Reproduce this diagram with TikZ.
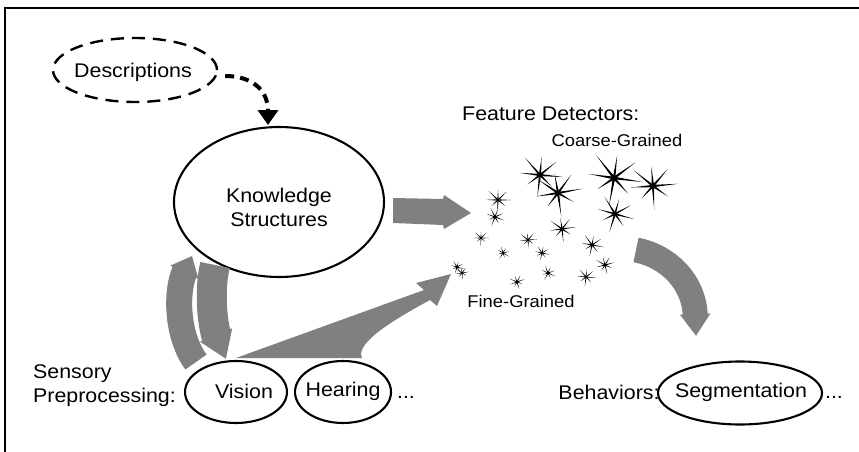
\documentclass[tikz,border=0pt]{standalone}
\usepackage{fontspec}
\setmainfont{Liberation Sans}[FakeStretch=1.08]
\usetikzlibrary{arrows.meta,shapes.geometric,calc}
\definecolor{flowgrey}{RGB}{128,128,128}
\tikzset{
  oval/.style={ellipse, draw, line width=2.1pt, inner sep=0pt},
  dashoval/.style={oval, line width=2.4pt, dash pattern=on 13pt off 8pt},
  big/.style={font=\fontsize{19.8}{23}\selectfont, inner sep=0pt},
  small/.style={font=\fontsize{17}{20}\selectfont, inner sep=0pt},
  band/.style={draw=flowgrey, line width=#1},
  wedge/.style={fill=flowgrey},
}
% a feature detector: eight tapered rays around (x,y), radius, turn
\newcommand\burst[4]{%
  \pgfmathsetmacro\bw{0.18+0.04*#3}%
  \foreach \a/\f in {0/1,40/0.72,92/0.95,138/0.68,181/0.88,224/1,270/0.78,316/0.9}{%
    \fill ($(#1,#2)+(#4+\a+90:\bw)$) -- ($(#1,#2)+(#4+\a:#3*\f)$) -- ($(#1,#2)+(#4+\a-90:\bw)$) -- cycle;
  }}

\begin{document}
\begin{tikzpicture}[x=1pt,y=-1pt]
\useasboundingbox (0,0) rectangle (859,452);
\draw[line width=2.2pt] (859,8) -- (5,8) -- (5,452);

% nodes
\node[dashoval, minimum width=164pt, minimum height=64pt] (desc) at (135,70) {};
\node[big] (desct) at (133,72) {Descriptions};
\node[oval, minimum width=210pt, minimum height=150pt] (know) at (279,202) {};
\node[big, align=center] (knowt) at (279,207) {Knowledge\\[1pt]Structures};

\node[big, anchor=west, align=left] (sens) at (33,386) {Sensory\\[1pt]Preprocessing:};
\node[oval, minimum width=102pt, minimum height=62pt] (vis) at (236,392) {};
\node[big] (vist) at (244,391) {Vision};
\node[oval, minimum width=96pt, minimum height=62pt] (hear) at (343,392) {};
\node[big] (heart) at (343,391) {Hearing};
\node[big, anchor=base] (more1) at (406,398) {...};

\node[big] (beh) at (609,392) {Behaviors:};
\node[oval, minimum width=164pt, minimum height=63pt] (seg) at (740,393) {};
\node[big] (segt) at (741,392) {Segmentation};
\node[big, anchor=base] (more2) at (834,398) {...};

\node[big, anchor=west] (fd) at (462,114) {Feature Detectors:};
\node[small] (coarse) at (617,140) {Coarse-Grained};
\node[small] (fine) at (521,301) {Fine-Grained};

% dashed arrow from descriptions into knowledge
\coordinate (kin) at (268,125);
\draw[line width=4pt, dash pattern=on 9pt off 6pt, -{Triangle[length=15pt,width=20pt]}]
  ($(desc.east)+(7,6)$) .. controls (252,76) and (268,90) .. (kin);

% grey block arrow knowledge -> detectors
\fill[wedge] ($(know.east)+(8,-4)$) -- (443,199) -- (444,195) -- (471,213) -- (444,229) -- (443,225) -- ($(know.east)+(8,21)$) -- cycle;

% loop between vision and knowledge
\draw[band=26pt, -{Triangle[length=18pt,width=30pt]}]
  (196,362) .. controls (176,335) and (176,290) .. (192,256);
\draw[band=30pt, -{Triangle[length=26pt,width=33pt]}]
  (215,265) .. controls (208,295) and (214,330) .. (226,359);

% wide wedge vision -> fine detectors
\coordinate (fin) at (451,274);
\fill[wedge] (236,358) -- (362,358) .. controls (356,345) and (382,326) .. (430,300)
  -- (437,306) -- (fin) -- (416,283) -- (424,290) -- cycle;

% detectors -> behaviors
\draw[band=25pt, -{Triangle[length=22pt,width=29pt]}]
  (636,250) .. controls (668,256) and (694,282) .. (696,336);

% detectors
\burst{540}{175}{23}{5}
\burst{558}{193}{25}{-10}
\burst{614}{178}{29}{8}
\burst{653}{186}{25}{-5}
\burst{615}{214}{20}{15}
\burst{498}{200}{13}{0}
\burst{495}{217}{10}{20}
\burst{562}{229}{14}{-8}
\burst{592}{245}{12}{10}
\burst{605}{265}{10}{-15}
\burst{586}{277}{10}{5}
\burst{548}{273}{8}{25}
\burst{517}{282}{8}{-20}
\burst{542}{253}{8}{12}
\burst{528}{240}{9}{-5}
\burst{503}{253}{7}{30}
\burst{481}{238}{8}{0}
\burst{457}{267}{7}{15}
\burst{462}{273}{7}{-10}
\end{tikzpicture}
\end{document}
